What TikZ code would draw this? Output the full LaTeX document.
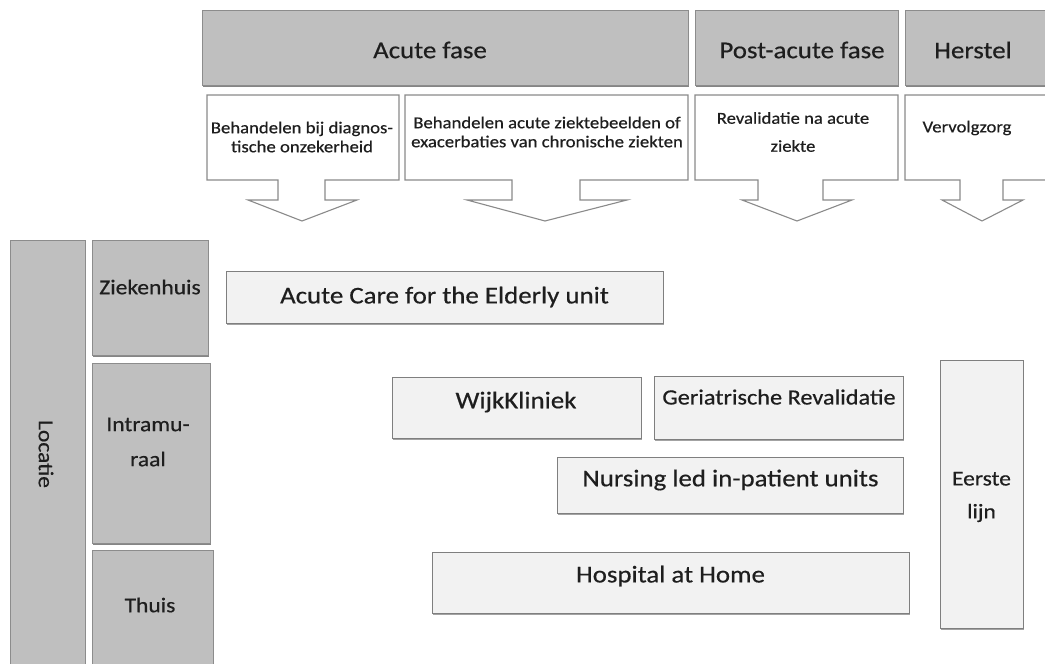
\documentclass[tikz,border=0pt]{standalone}
\usepackage{fontspec}
\setmainfont{Carlito}[FakeStretch=1.12, FakeBold=0.5]
\usetikzlibrary{shadows,fit}
\definecolor{hdr}{HTML}{BFBFBF}
\definecolor{hdrline}{HTML}{8C8C8C}
\definecolor{boxfill}{HTML}{F2F2F2}
\definecolor{boxline}{HTML}{7F7F7F}
\definecolor{txt}{HTML}{1E1E1E}
\definecolor{arrline}{HTML}{8A8A8A}
\newcommand\fsbig{\fontsize{24}{28}\selectfont}
\newcommand\fsmid{\fontsize{21}{25}\selectfont}
\newcommand\fssmall{\fontsize{16.7}{19}\selectfont}
\tikzset{
  graybox/.style={fill=hdr, draw=hdrline, line width=0.8pt, inner sep=0pt, outer sep=0pt,
    drop shadow={shadow xshift=1.2pt, shadow yshift=-1.5pt, fill=black!60, opacity=0.8}},
  carebox/.style={fill=boxfill, draw=boxline, line width=0.9pt, inner sep=0pt, outer sep=0pt,
    drop shadow={shadow xshift=1.2pt, shadow yshift=-1.5pt, fill=black!45, opacity=0.8}},
  arrbox/.style={fill=white, draw=arrline, line width=1.1pt, line join=miter},
  lbl/.style={text=txt, inner sep=0pt, align=center},
}
\begin{document}
\begin{tikzpicture}[x=1pt, y=-1pt]
\useasboundingbox (0,0) rectangle (1045,664);
\clip (0,0) rectangle (1045,664);

% header boxes
\node[graybox, fit={(202,10)(688,85)}] (acute) {};
\node[graybox, fit={(695,10)(898,85)}] (post) {};
\node[graybox, fit={(905,10)(1060,85)}] (herstel) {};
\node[lbl, font=\fsbig] (tacute) at (430,50) {Acute fase};
\node[lbl, font=\fsbig] (tpost) at (802,50) {Post-acute fase};
\node[lbl, font=\fsbig] (therstel) at (973,50) {Herstel};

% arrow callout boxes
\draw[arrbox] (207,95) -- (399,95) -- (399,180) -- (325,180) -- (325,200) -- (357,200)
  -- (302,221) -- (248,200) -- (278,200) -- (278,180) -- (207,180) -- cycle;
\draw[arrbox] (405,95) -- (688,95) -- (688,180) -- (580,180) -- (580,200) -- (627,200)
  -- (545,221) -- (467,200) -- (512,200) -- (512,180) -- (405,180) -- cycle;
\draw[arrbox] (695,95) -- (898,95) -- (898,180) -- (823,180) -- (823,200) -- (852,200)
  -- (797,221) -- (742,200) -- (758,200) -- (758,180) -- (695,180) -- cycle;
\draw[arrbox] (905,95) -- (1060,95) -- (1060,180) -- (1003,180) -- (1003,200) -- (1023,200)
  -- (982,221) -- (942,200) -- (960,200) -- (960,180) -- (905,180) -- cycle;
\node[lbl, font=\fssmall] (a1) at (302,137) {Behandelen bij diagnos-\\tische onzekerheid};
\node[lbl, font=\fssmall] (a2) at (547,132) {Behandelen acute ziektebeelden of\\exacerbaties van chronische ziekten};
\node[lbl, font=\fontsize{16.7}{28}\selectfont] (a3) at (793,132) {Revalidatie na acute\\ziekte};
\node[lbl, font=\fssmall] (a4) at (967,128) {Vervolgzorg};

% left column
\node[graybox, fit={(10,240)(85,680)}] (locatie) {};
\node[lbl, font=\fsmid, rotate=-90] (tlocatie) at (46,454) {Locatie};
\node[graybox, fit={(92,240)(208,355)}] (zieken) {};
\node[lbl, font=\fsmid] (tzieken) at (150,287) {Ziekenhuis};
\node[graybox, fit={(92,363)(210,543)}] (intra) {};
\node[lbl, font=\fontsize{21}{35}\selectfont] (tintra) at (148,442) {Intramu-\\raal};
\node[graybox, fit={(92,550)(213,680)}] (thuis) {};
\node[lbl, font=\fsmid] (tthuis) at (150,605) {Thuis};

% care settings
\node[carebox, fit={(226,271)(663,323)}] (ace) {};
\node[lbl, font=\fsbig] (tace) at (444.5,297) {Acute Care for the Elderly unit};
\node[carebox, fit={(392,377)(641,438)}] (wijk) {};
\node[lbl, font=\fsbig] (twijk) at (516,402) {WijkKliniek};
\node[carebox, fit={(654,376)(903,439)}] (geri) {};
\node[lbl, font=\fontsize{21.7}{25}\selectfont] (tgeri) at (779,397) {Geriatrische Revalidatie};
\node[carebox, fit={(557,457)(903,513)}] (nurs) {};
\node[lbl, font=\fsbig] (tnurs) at (730.5,480) {Nursing led in-patient units};
\node[carebox, fit={(432,552)(909,613)}] (hah) {};
\node[lbl, font=\fsbig] (thah) at (670.5,576) {Hospital at Home};
\node[carebox, fit={(940,360)(1023,628)}] (eerste) {};
\node[lbl, font=\fontsize{21}{33}\selectfont] (teerste) at (981.5,497) {Eerste\\lijn};
\end{tikzpicture}
\end{document}
